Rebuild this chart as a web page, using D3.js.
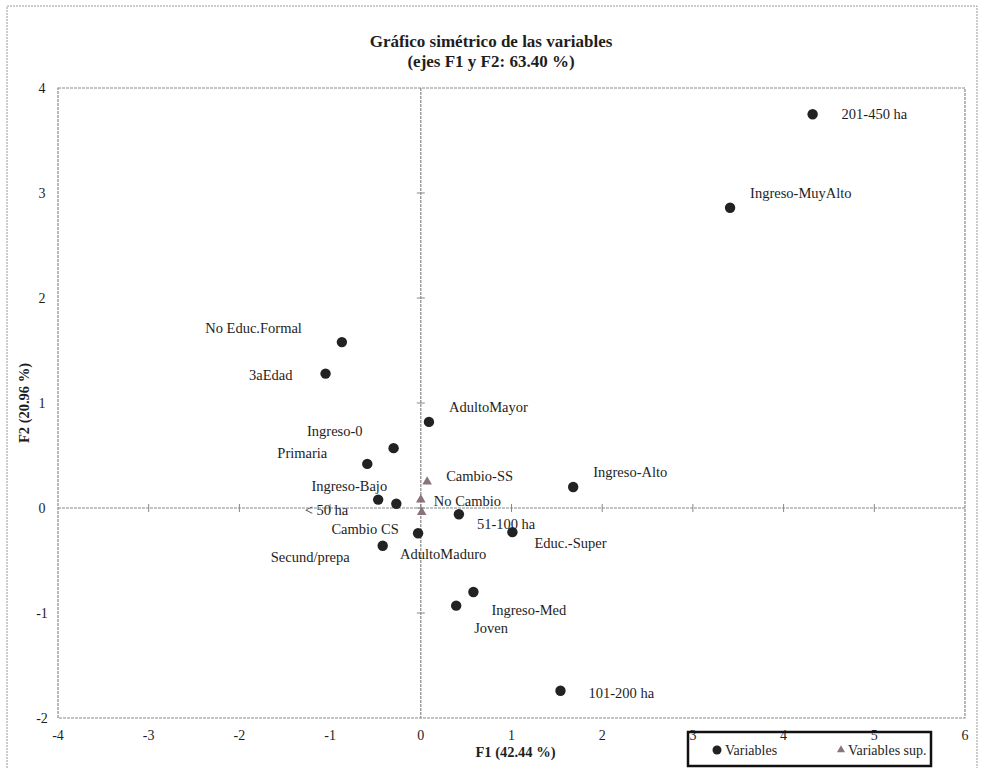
<!DOCTYPE html>
<html lang="es">
<head>
<meta charset="UTF-8">
<title>Gráfico simétrico de las variables</title>
<script src="https://cdn.jsdelivr.net/npm/d3@7"></script>
<style>
  body { margin: 0; background: #fff; }
  #chart text { font-family: "Liberation Serif", "DejaVu Serif", serif; fill: #1e1e1e; }
  .title { font-size: 17px; font-weight: bold; }
  .axisTitle { font-size: 14.5px; font-weight: bold; }
  .tick-label { font-size: 14px; }
  .pt-label { font-size: 14.5px; }
  .legend text { font-size: 14px; }
</style>
</head>
<body>
<div id="chart"></div>
<script>
// active variables (F1, F2)
var names = ["201-450 ha", "Ingreso-MuyAlto", "No Educ.Formal", "3aEdad", "AdultoMayor",
  "Ingreso-0", "Primaria", "Ingreso-Alto", "Ingreso-Bajo", "< 50 ha", "51-100 ha",
  "AdultoMaduro", "Educ.-Super", "Secund/prepa", "Ingreso-Med", "Joven", "101-200 ha"];
var f1 = [4.32, 3.41, -0.87, -1.05, 0.09, -0.30, -0.59, 1.68, -0.47, -0.27, 0.42,
  -0.03, 1.01, -0.42, 0.58, 0.39, 1.54];
var f2 = [3.75, 2.86, 1.58, 1.28, 0.82, 0.57, 0.42, 0.20, 0.08, 0.04, -0.06,
  -0.24, -0.23, -0.36, -0.80, -0.93, -1.74];

// supplementary variables
var supNames = ["Cambio-SS", "No Cambio", "Cambio CS"];
var supF1 = [0.07, 0.00, 0.01];
var supF2 = [0.25, 0.08, -0.04];

var xTicks = [-4, -3, -2, -1, 0, 1, 2, 3, 4, 5, 6];
var yTicks = [-2, -1, 0, 1, 2, 3, 4];

// label placement relative to the point: [dx, dy, anchor]
var labelPos = [[29, 0, "start"], [20, -15, "start"], [-40, -14, "end"], [-33, 1, "end"],
  [20, -15, "start"], [-31, -17, "end"], [-40, -11, "end"], [20, -15, "start"],
  [9, -14, "end"], [-48, 6, "end"], [18, 10, "start"], [-18, 21, "start"],
  [22, 11, "start"], [-33, 11, "end"], [18, 18, "start"], [18, 22, "start"], [28, 2, "start"]];
var supLabelPos = [[19, -6, "start"], [13, 1, "start"], [-23, 17, "end"]];

var W = 981, H = 768;
var svg = d3.select("#chart").append("svg").attr("width", W).attr("height", H);

// scanned page frame
svg.append("rect").attr("x", 7).attr("y", 6).attr("width", 970).attr("height", 770)
  .attr("fill", "none").attr("stroke", "#999").attr("stroke-width", 1)
  .attr("stroke-dasharray", "2,1");

var x = d3.scaleLinear().domain([-4, 6]).range([58, 965]);
var y = d3.scaleLinear().domain([-2, 4]).range([718, 88]);

// plot border
svg.append("rect")
  .attr("x", x(-4)).attr("y", y(4))
  .attr("width", x(6) - x(-4)).attr("height", y(-2) - y(4))
  .attr("fill", "none").attr("stroke", "#8a8a8a").attr("stroke-width", 1.2)
  .attr("stroke-dasharray", "3,1");

// zero lines
svg.append("line").attr("x1", x(-4)).attr("x2", x(6)).attr("y1", y(0)).attr("y2", y(0))
  .attr("stroke", "#888").attr("stroke-width", 1.2).attr("stroke-dasharray", "3,1");
svg.append("line").attr("x1", x(0)).attr("x2", x(0)).attr("y1", y(4)).attr("y2", y(-2))
  .attr("stroke", "#888").attr("stroke-width", 1.2).attr("stroke-dasharray", "3,1");

// tick crosses on zero lines
svg.selectAll(".xcross").data(xTicks.slice(1, -1)).enter().append("line")
  .attr("x1", function(d) { return x(d); }).attr("x2", function(d) { return x(d); })
  .attr("y1", y(0) - 4).attr("y2", y(0) + 4)
  .attr("stroke", "#888").attr("stroke-width", 1);
svg.selectAll(".ycross").data(yTicks.slice(1, -1)).enter().append("line")
  .attr("x1", x(0) - 4).attr("x2", x(0) + 4)
  .attr("y1", function(d) { return y(d); }).attr("y2", function(d) { return y(d); })
  .attr("stroke", "#888").attr("stroke-width", 1);

// tick labels
svg.selectAll(".xl").data(xTicks).enter().append("text")
  .attr("class", "tick-label").attr("text-anchor", "middle")
  .attr("x", function(d) { return x(d); }).attr("y", 740)
  .text(function(d) { return d; });
svg.selectAll(".yl").data(yTicks).enter().append("text")
  .attr("class", "tick-label").attr("text-anchor", "middle")
  .attr("x", 42).attr("y", function(d) { return y(d) + 5; })
  .text(function(d) { return d; });

// titles
svg.append("text").attr("class", "title").attr("text-anchor", "middle")
  .attr("x", 491).attr("y", 47).text("Gráfico simétrico de las variables");
svg.append("text").attr("class", "title").attr("text-anchor", "middle")
  .attr("x", 491).attr("y", 67).text("(ejes F1 y F2: 63.40 %)");
svg.append("text").attr("class", "axisTitle").attr("text-anchor", "middle")
  .attr("x", (x(-4) + x(6)) / 2 + 4).attr("y", 757).text("F1 (42.44 %)");
svg.append("text").attr("class", "axisTitle").attr("text-anchor", "middle")
  .attr("transform", "translate(29," + (y(-2) + y(4)) / 2 + ") rotate(-90)").text("F2 (20.96 %)");

// active points
var idx = d3.range(names.length);
svg.selectAll(".pt").data(idx).enter().append("circle")
  .attr("cx", function(i) { return x(f1[i]); })
  .attr("cy", function(i) { return y(f2[i]); })
  .attr("r", 5.2).attr("fill", "#222");
svg.selectAll(".lbl").data(idx).enter().append("text")
  .attr("class", "pt-label")
  .attr("text-anchor", function(i) { return labelPos[i][2]; })
  .attr("x", function(i) { return x(f1[i]) + labelPos[i][0]; })
  .attr("y", function(i) { return y(f2[i]) + labelPos[i][1] + 5; })
  .text(function(i) { return names[i]; });

// supplementary points
var tri = d3.symbol().type(d3.symbolTriangle).size(40);
var sidx = d3.range(supNames.length);
svg.selectAll(".sp").data(sidx).enter().append("path")
  .attr("d", tri)
  .attr("transform", function(i) { return "translate(" + x(supF1[i]) + "," + y(supF2[i]) + ")"; })
  .attr("fill", "#8a7478");
svg.selectAll(".slbl").data(sidx).enter().append("text")
  .attr("class", "pt-label")
  .attr("text-anchor", function(i) { return supLabelPos[i][2]; })
  .attr("x", function(i) { return x(supF1[i]) + supLabelPos[i][0]; })
  .attr("y", function(i) { return y(supF2[i]) + supLabelPos[i][1] + 5; })
  .text(function(i) { return supNames[i]; });

// legend
var lg = svg.append("g").attr("class", "legend");
lg.append("rect").attr("x", 688).attr("y", 732).attr("width", 243).attr("height", 34)
  .attr("fill", "none").attr("stroke", "#111").attr("stroke-width", 2.5);
lg.append("circle").attr("cx", 717).attr("cy", 750).attr("r", 4.5).attr("fill", "#222");
lg.append("text").attr("x", 725).attr("y", 755).text("Variables");
lg.append("path").attr("d", d3.symbol().type(d3.symbolTriangle).size(28))
  .attr("transform", "translate(841,750)").attr("fill", "#8a7478");
lg.append("text").attr("x", 848).attr("y", 755).text("Variables sup.");
</script>
</body>
</html>
